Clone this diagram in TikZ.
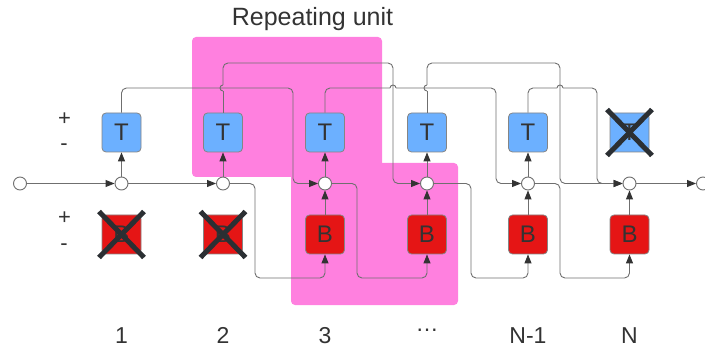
\documentclass[tikz,border=0pt]{standalone}
\usepackage{fontspec}
\setmainfont{Liberation Sans}
\usetikzlibrary{arrows.meta}
\definecolor{unitpink}{HTML}{FF80DF}
\definecolor{tblue}{HTML}{6CB0FF}
\definecolor{bred}{HTML}{E51515}
\definecolor{wiregray}{HTML}{6F6F6F}
\definecolor{ink}{HTML}{333333}
\definecolor{crossink}{HTML}{2B2F33}

\begin{document}
\begin{tikzpicture}[x=1pt,y=-1pt,
  wire/.style={draw=wiregray,line width=0.9pt,rounded corners=5pt},
  feed/.style={wire,-{Triangle[length=9pt,width=7pt,color=ink]}},
  hop/.style={draw=wiregray,line width=0.9pt},
  junction/.style={circle,draw=wiregray,fill=white,line width=0.9pt,minimum size=13pt,inner sep=0pt},
  unitbox/.style={draw=wiregray!85,line width=0.8pt,rounded corners=4pt,minimum size=39pt,inner sep=0pt,text=ink,font=\fontsize{24}{24}\selectfont},
  tbox/.style={unitbox,fill=tblue},
  bbox/.style={unitbox,fill=bred},
  strike/.style={draw=crossink,line width=5pt},
  lbl/.style={text=ink,inner sep=0pt,anchor=base,font=\fontsize{23}{23}\selectfont},
  sign/.style={lbl,font=\fontsize{22}{22}\selectfont}]
\useasboundingbox (0,0) rectangle (705,350);

% repeating unit highlight
\fill[unitpink,rounded corners=4pt] (192,37) rectangle (382,177);
\fill[unitpink,rounded corners=4pt] (291,163) rectangle (458,305);
\node[lbl,font=\fontsize{25}{25}\selectfont] (title) at (312.5,26) {Repeating unit};

% junctions on the main line
\node[junction] (S)  at (20,183.5) {};
\node[junction] (C1) at (121.5,183.5) {};
\node[junction] (C2) at (223,183.5) {};
\node[junction] (C3) at (325,183.5) {};
\node[junction] (C4) at (427,183.5) {};
\node[junction] (C5) at (528,183.5) {};
\node[junction] (C6) at (629.5,183.5) {};
\node[junction] (E)  at (703,183.5) {};

% top and bottom blocks
\node[tbox] (T1) at (121.5,132.5) {T};
\node[tbox] (T2) at (223,132.5) {T};
\node[tbox] (T3) at (325,132.5) {T};
\node[tbox] (T4) at (427,132.5) {T};
\node[tbox] (T5) at (528,132.5) {T};
\node[tbox] (T6) at (629.5,132.5) {T};
\node[bbox] (B1) at (121.5,234.5) {B};
\node[bbox] (B2) at (223,234.5) {B};
\node[bbox] (B3) at (325,234.5) {B};
\node[bbox] (B4) at (427,234.5) {B};
\node[bbox] (B5) at (528,234.5) {B};
\node[bbox] (B6) at (629.5,234.5) {B};

% main line
\draw[feed] (S) -- (C1);
\draw[feed] (C1) -- (C2);
\draw[feed] (C6) -- (E);

% junction to top block, bottom block to junction
\draw[feed] (C1) -- (T1);
\draw[feed] (C2) -- (T2);
\draw[feed] (C3) -- (T3);
\draw[feed] (C4) -- (T4);
\draw[feed] (C5) -- (T5);
\draw[feed] (B3) -- (C3);
\draw[feed] (B4) -- (C4);
\draw[feed] (B5) -- (C5);
\draw[feed] (B6) -- (C6);

% skip connections from the top blocks
\draw[feed] (T1.north) -- (121.5,88) -- (293,88) -- (293,183.5) -- (C3.west);

\draw[wire] (T2.north) -- (223,91);
\draw[hop] (223,91) arc[start angle=-90,end angle=-270,radius=3pt];
\draw[feed] (223,85) -- (223,63) -- (393,63) -- (393,183.5) -- (C4.west);

\draw[wire] (T3.north) -- (325,88) -- (390,88);
\draw[hop] (390,88) arc[start angle=180,end angle=0,radius=3pt];
\draw[feed] (396,88) -- (496,88) -- (496,183.5) -- (C5.west);

\draw[wire] (T4.north) -- (427,91);
\draw[hop] (427,91) arc[start angle=-90,end angle=-270,radius=3pt];
\draw[feed] (427,85) -- (427,63) -- (560,63) -- (560,183.5) -- (C6.west);

\draw[wire] (T5.north) -- (528,88) -- (557,88);
\draw[hop] (557,88) arc[start angle=180,end angle=0,radius=3pt];
\draw[feed] (563,88) -- (597,88) -- (597,183.5) -- (C6.west);

% junction outputs into the next bottom block
\draw[feed] (C2.east) -- (255,183.5) -- (255,278) -- (325,278) -- (B3.south);
\draw[feed] (C3.east) -- (357,183.5) -- (357,278) -- (427,278) -- (B4.south);
\draw[feed] (C4.east) -- (471,183.5) -- (471,278) -- (528,278) -- (B5.south);
\draw[feed] (C5.east) -- (560,183.5) -- (560,278) -- (629.5,278) -- (B6.south);

% removed blocks
\draw[strike] (B1.center) ++(-22.5,-23) -- ++(45,46);
\draw[strike] (B1.center) ++(22.5,-23) -- ++(-45,46);
\draw[strike] (B2.center) ++(-22.5,-23) -- ++(45,46);
\draw[strike] (B2.center) ++(22.5,-23) -- ++(-45,46);
\draw[strike] (T6.center) ++(-22.5,-23) -- ++(45,46);
\draw[strike] (T6.center) ++(22.5,-23) -- ++(-45,46);

% sign labels
\node[sign] (tp) at (64.5,125.7) {+};
\node[sign] (tm) at (64,151) {-};
\node[sign] (bp) at (64.5,224.7) {+};
\node[sign] (bm) at (64,251) {-};

% position labels
\node[lbl] (n1) at (121.5,343) {1};
\node[lbl] (n2) at (223,343) {2};
\node[lbl] (n3) at (325,343) {3};
\node[lbl] (n4) at (427,331.5) {…};
\node[lbl] (n5) at (528,343) {N-1};
\node[lbl] (n6) at (629.5,343) {N};
\end{tikzpicture}
\end{document}
